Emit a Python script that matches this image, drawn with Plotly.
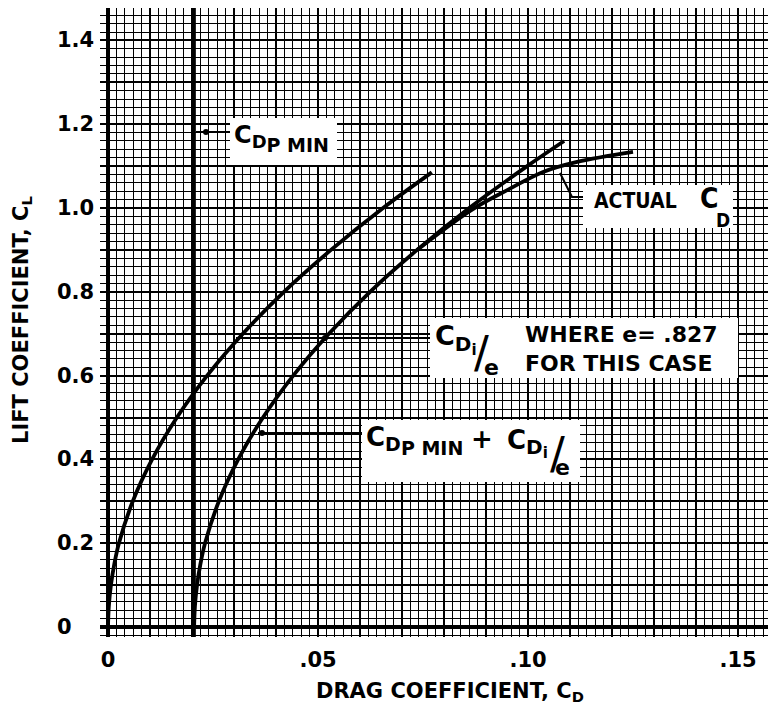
import plotly.graph_objects as go

# ---------------- data ----------------
CDP_MIN = 0.0205  # parasite drag coefficient (vertical line)

# induced drag curve  C_Di / e
cl_induced = [0, 0.05, 0.1, 0.15, 0.2, 0.3, 0.4, 0.5, 0.6, 0.7, 0.8, 0.9, 1.0, 1.085]
cd_induced = [0, 0.0002, 0.0007, 0.0015, 0.0026, 0.0059, 0.0105, 0.0164, 0.0236,
              0.0321, 0.0419, 0.0531, 0.0655, 0.0771]

# total curve  C_Dp min + C_Di / e
cl_total = [0, 0.05, 0.1, 0.15, 0.2, 0.3, 0.4, 0.5, 0.6, 0.7, 0.8, 0.9, 1.0, 1.1, 1.16]
cd_total = [0.0205, 0.0207, 0.0212, 0.0220, 0.0231, 0.0264, 0.0310, 0.0369, 0.0441,
            0.0526, 0.0624, 0.0736, 0.0860, 0.0998, 0.1086]

# actual C_D (departs from the theoretical curve at high C_L)
cl_actual = [0.90, 0.995, 1.045, 1.086, 1.110, 1.134]
cd_actual = [0.0736, 0.0865, 0.0955, 0.1036, 0.1117, 0.1250]

x_tick_vals = [0, 0.05, 0.10, 0.15]
x_tick_text = ["0", ".05", ".10", ".15"]
y_tick_vals = [0, 0.2, 0.4, 0.6, 0.8, 1.0, 1.2, 1.4]
y_tick_text = ["0", "0.2", "0.4", "0.6", "0.8", "1.0", "1.2", "1.4"]

# ---------------- page-pixel helpers (layout only) ----------------
# plot area occupies page pixels x 100..776, y 8..637 (page body has an 8px margin)
def dx(px):
    return (px - 108) / 4200.0

def dy(py):
    return (627 - py) / 419.0

def paper_x(px):
    return (px - 100) / 676.0

def paper_y(py):
    return (637 - py) / 629.0

FONT = "DejaVu Sans"
COND = "DejaVu Sans Condensed, DejaVu Sans"
INK = "black"

fig = go.Figure()

y_lo, y_hi = dy(637), dy(8)
fig.add_trace(go.Scatter(x=[CDP_MIN, CDP_MIN], y=[y_lo, y_hi], mode="lines",
                         line=dict(color=INK, width=3.5), hoverinfo="skip"))
fig.add_trace(go.Scatter(x=cd_induced, y=cl_induced, mode="lines",
                         line=dict(color=INK, width=3.8, shape="spline")))
fig.add_trace(go.Scatter(x=cd_total, y=cl_total, mode="lines",
                         line=dict(color=INK, width=3.8, shape="spline")))
fig.add_trace(go.Scatter(x=cd_actual, y=cl_actual, mode="lines",
                         line=dict(color=INK, width=3.8, shape="spline")))

x_grid = [round(i * 0.01, 2) for i in range(16)]
x_grid_text = [x_tick_text[x_tick_vals.index(v)] if v in x_tick_vals else "" for v in x_grid]
y_grid = [round(i * 0.1, 1) for i in range(15)]

fig.update_layout(
    width=768, height=704,
    margin=dict(l=92, r=0, t=0, b=75),
    plot_bgcolor="white", paper_bgcolor="white",
    showlegend=False,
    xaxis=dict(range=[dx(100), dx(776)], tickmode="array", tickvals=x_grid,
               ticktext=x_grid_text, showgrid=True, gridcolor=INK, gridwidth=2.2,
               minor=dict(tick0=0, dtick=0.002, showgrid=True, gridcolor=INK, gridwidth=1.4),
               zeroline=True, zerolinecolor=INK, zerolinewidth=3.8,
               showline=False, ticks="", ticklabelstandoff=8,
               tickfont=dict(family=FONT, size=21, color=INK, weight="bold")),
    yaxis=dict(range=[y_lo, y_hi], tickmode="array", tickvals=y_grid,
               showticklabels=False, showgrid=True, gridcolor=INK, gridwidth=2.2,
               minor=dict(tick0=0, dtick=0.02, showgrid=True, gridcolor=INK, gridwidth=1.4),
               zeroline=True, zerolinecolor=INK, zerolinewidth=3.8,
               showline=False, ticks=""),
)

annotations = []
for v, t in zip(y_tick_vals, y_tick_text):
    annotations.append(dict(x=paper_x(55), xref="paper", y=v, yref="y",
                            text=t, showarrow=False, xanchor="left", yanchor="middle",
                            font=dict(family=FONT, size=21, color=INK, weight="bold")))

annotations.append(dict(x=paper_x(22), xref="paper", y=paper_y(320), yref="paper",
                        text="LIFT COEFFICIENT, C<sub>L</sub>", textangle=-90, showarrow=False,
                        xanchor="center", yanchor="middle",
                        font=dict(family=FONT, size=21, color=INK, weight="bold")))
annotations.append(dict(x=paper_x(450), xref="paper", y=paper_y(692), yref="paper",
                        text="DRAG COEFFICIENT, C<sub>D</sub>", showarrow=False,
                        xanchor="center", yanchor="middle",
                        font=dict(family=FONT, size=21, color=INK, weight="bold")))

shapes = []

def white_box(x0, y0, x1, y1):
    shapes.append(dict(type="rect", xref="paper", yref="paper",
                       x0=paper_x(x0), x1=paper_x(x1), y0=paper_y(y1), y1=paper_y(y0),
                       fillcolor="white", line=dict(width=0), layer="above"))

def leader(pts, width=2):
    path = "M " + " L ".join(f"{dx(px)},{dy(py)}" for px, py in pts)
    shapes.append(dict(type="path", xref="x", yref="y", path=path,
                       line=dict(color=INK, width=width), layer="above"))

def dot(px, py, r=3):
    shapes.append(dict(type="circle", xref="x", yref="y", x0=dx(px - r), x1=dx(px + r),
                       y0=dy(py + r), y1=dy(py - r), fillcolor=INK, line=dict(width=0), layer="above"))

def text(px, py, s, size, family=FONT, xanchor="left", yanchor="middle", weight="bold", **kw):
    annotations.append(dict(x=paper_x(px), xref="paper", y=paper_y(py), yref="paper",
                            text=s, showarrow=False, xanchor=xanchor, yanchor=yanchor,
                            font=dict(family=family, size=size, color=INK, weight=weight), **kw))

# --- C_Dp min label
white_box(230, 118, 337, 165)
leader([(196, 132), (230, 132)])
dot(206, 132)
text(232, 158, "C<sub><span style='font-size:18px'>D</span><sub><span style='font-size:19px'>P MIN</span></sub></sub>",
     24, yanchor="bottom")

# --- Actual C_D label
white_box(583, 185, 733, 228)
leader([(560, 173), (572, 197), (583, 197)])
text(592, 201, "ACTUAL", 21, family=COND)
text(698, 199, "C", 28, family=COND)
text(714, 220, "D", 19, family=COND)

# --- C_Di/e label
white_box(430, 318, 738, 378)
leader([(236, 338), (430, 338)])
dot(325, 338)
text(433, 361, "C<sub><span style='font-size:20px'>D</span><sub><span style='font-size:15px'>i</span></sub></sub>",
     27, yanchor="bottom")
text(481, 352, "/", 44, xanchor="center", weight="normal")
text(491, 367, "e", 22, xanchor="center")
text(523, 349, "WHERE e= .827<br>FOR THIS CASE", 22, align="left")

# --- C_Dp min + C_Di/e label
white_box(362, 420, 580, 482)
leader([(258, 433), (362, 433)])
dot(262, 433)
text(364, 461, "C<sub><span style='font-size:19px'>D</span><sub><span style='font-size:19px'>P MIN</span></sub></sub>",
     26, yanchor="bottom")
text(482, 439, "+", 26, xanchor="center")
text(505, 464, "C<sub><span style='font-size:20px'>D</span><sub><span style='font-size:15px'>i</span></sub></sub>",
     26, yanchor="bottom")
text(557, 453, "/", 44, xanchor="center", weight="normal")
text(562, 467, "e", 22, xanchor="center")

fig.update_layout(annotations=annotations, shapes=shapes)
fig.write_html("out.html")
